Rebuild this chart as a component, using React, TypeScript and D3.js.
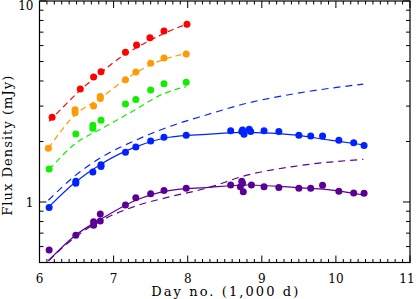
import * as d3 from "d3";

// observed points (day no. in 1,000 d, flux in mJy)
const redX = [6.17, 6.55, 6.73, 6.83, 7.16, 7.31, 7.49, 7.68, 7.99];
const redY = [2.64, 3.65, 4.19, 4.45, 5.56, 6.04, 6.56, 7.1, 7.66];
const redModelX = [6.13, 6.3, 6.55, 6.8, 7.0, 7.36, 7.72, 8.0];
const redModelY = [2.52, 2.92, 3.6, 4.3, 4.95, 6.0, 7.0, 7.7];

const orangeX = [6.12, 6.48, 6.48, 6.73, 6.82, 6.82, 7.16, 7.3, 7.5, 7.68, 7.98];
const orangeY = [1.85, 2.78, 2.88, 3.0, 3.27, 3.35, 4.06, 4.43, 4.9, 5.2, 5.45];
const orangeModelX = [6.12, 6.48, 6.82, 7.15, 7.49, 7.99];
const orangeModelY = [1.85, 2.71, 3.28, 4.05, 4.8, 5.5];

const greenX = [6.13, 6.49, 6.72, 6.72, 6.83, 7.16, 7.3, 7.5, 7.68, 7.98];
const greenY = [1.46, 2.18, 2.41, 2.33, 2.55, 3.07, 3.24, 3.61, 3.88, 3.94];
const greenModelX = [6.13, 6.49, 6.85, 7.28, 7.63, 7.98];
const greenModelY = [1.45, 1.96, 2.33, 2.86, 3.4, 3.75];

const blueX = [6.13, 6.49, 6.49, 6.72, 6.83, 6.83, 7.16, 7.3, 7.5, 7.68, 7.98, 8.58, 8.73, 8.74, 8.76, 8.83, 8.85, 9.03, 9.23, 9.5, 9.66, 9.82, 10.04, 10.24, 10.38];
const blueY = [0.94, 1.27, 1.24, 1.41, 1.53, 1.5, 1.77, 1.88, 2.01, 2.1, 2.15, 2.26, 2.24, 2.28, 2.17, 2.3, 2.24, 2.26, 2.24, 2.15, 2.13, 2.13, 2.03, 1.97, 1.91];
const blueFitX = [6.12, 6.49, 6.85, 7.3, 7.75, 8.25, 8.8, 9.47, 9.92, 10.39];
const blueFitY = [0.94, 1.26, 1.56, 1.88, 2.1, 2.17, 2.22, 2.15, 2.03, 1.92];
const blueModelX = [6.12, 6.49, 6.85, 7.3, 7.75, 8.25, 8.8, 9.47, 10.37];
const blueModelY = [1.02, 1.36, 1.68, 2.03, 2.37, 2.71, 3.1, 3.47, 3.86];

const purpleX = [6.13, 6.49, 6.73, 6.73, 6.82, 6.82, 7.16, 7.3, 7.5, 7.68, 7.98, 8.58, 8.71, 8.73, 8.74, 8.75, 8.86, 9.03, 9.23, 9.5, 9.66, 9.82, 10.04, 10.24, 10.38];
const purpleY = [0.577, 0.683, 0.798, 0.766, 0.871, 0.804, 0.966, 1.05, 1.1, 1.14, 1.17, 1.215, 1.19, 1.27, 1.24, 1.125, 1.215, 1.19, 1.18, 1.17, 1.17, 1.21, 1.13, 1.11, 1.105];
const purpleFitX = [6.12, 6.49, 6.85, 7.3, 7.75, 8.25, 8.8, 9.47, 9.92, 10.39];
const purpleFitY = [0.51, 0.685, 0.83, 1.02, 1.14, 1.18, 1.215, 1.18, 1.15, 1.08];
const purpleModelX = [6.12, 6.49, 6.85, 7.3, 7.75, 8.25, 8.8, 9.47, 10.37];
const purpleModelY = [0.51, 0.672, 0.814, 0.955, 1.06, 1.17, 1.36, 1.51, 1.63];

const xTicks = [6, 7, 8, 9, 10, 11];
const yMajor = [1, 10];
const yMinor = [0.5, 0.6, 0.7, 0.8, 0.9, 2, 3, 4, 5, 6, 7, 8, 9];

const series = [
  { color: "#ff0000", x: redX, y: redY, model: [redModelX, redModelY], fit: null, dash: "6,4" },
  { color: "#ff9a00", x: orangeX, y: orangeY, model: [orangeModelX, orangeModelY], fit: null, dash: "6,4" },
  { color: "#11ee00", x: greenX, y: greenY, model: [greenModelX, greenModelY], fit: null, dash: "6,4" },
  { color: "#0022ff", x: blueX, y: blueY, model: [blueModelX, blueModelY], fit: [blueFitX, blueFitY], dash: "7,5" },
  { color: "#5b0095", x: purpleX, y: purpleY, model: [purpleModelX, purpleModelY], fit: [purpleFitX, purpleFitY], dash: "7,5" },
];

const width = 416;
const height = 299;
const pad = { top: 1, right: 6, bottom: 36.5, left: 39.5 };
const font = "'DejaVu Serif', serif";

export default function App() {
  const x = d3.scaleLinear().domain([6, 11]).range([pad.left, width - pad.right]);
  const y = d3.scaleLog().domain([0.5, 10]).range([height - pad.bottom, pad.top]);

  const line = d3
    .line<[number, number]>()
    .x((d) => x(d[0]))
    .y((d) => y(d[1]))
    .curve(d3.curveMonotoneX);

  const pairs = (xs: number[], ys: number[]) => xs.map((v, i) => [v, ys[i]] as [number, number]);

  const minorX = d3.range(60, 111).map((v) => v / 10).filter((v) => Math.abs(v - Math.round(v)) > 1e-6);

  const x0 = x(6);
  const x1 = x(11);
  const y0 = y(0.5);
  const y1 = y(10);

  return (
    <div style={{ position: "fixed", left: 0, top: 0 }}>
      <svg width={width} height={height} style={{ display: "block" }}>
        <rect x={0} y={0} width={width} height={height} fill="white" />

        {series.map((s, i) => (
          <g key={i}>
            <path d={line(pairs(s.model[0], s.model[1])) ?? ""} fill="none" stroke={s.color} strokeWidth={1.2} strokeDasharray={s.dash} />
            {s.fit && <path d={line(pairs(s.fit[0], s.fit[1])) ?? ""} fill="none" stroke={s.color} strokeWidth={1.2} />}
            {s.x.map((v, j) => (
              <circle key={j} cx={x(v)} cy={y(s.y[j])} r={3.5} fill={s.color} />
            ))}
          </g>
        ))}

        {/* frame */}
        <rect x={x0} y={y1} width={x1 - x0} height={y0 - y1} fill="none" stroke="black" strokeWidth={1.2} />

        {/* x ticks, top and bottom */}
        {xTicks.map((t) => (
          <g key={"xt" + t}>
            <line x1={x(t)} x2={x(t)} y1={y0} y2={y0 - 7} stroke="black" />
            <line x1={x(t)} x2={x(t)} y1={y1} y2={y1 + 7} stroke="black" />
            <text x={t === 11 ? x(t) - 3 : x(t)} y={y0 + 20} fontSize={12} fontFamily={font} textAnchor="middle">
              {t}
            </text>
          </g>
        ))}
        {minorX.map((t) => (
          <g key={"xm" + t}>
            <line x1={x(t)} x2={x(t)} y1={y0} y2={y0 - 3.5} stroke="black" />
            <line x1={x(t)} x2={x(t)} y1={y1} y2={y1 + 3.5} stroke="black" />
          </g>
        ))}

        {/* y ticks, left and right */}
        {yMajor.map((t) => (
          <g key={"yt" + t}>
            <line x1={x0} x2={x0 + 7} y1={y(t)} y2={y(t)} stroke="black" />
            <line x1={x1} x2={x1 - 7} y1={y(t)} y2={y(t)} stroke="black" />
            <text x={x0 - 6} y={Math.max(10, y(t) + 5.5)} fontSize={12} fontFamily={font} textAnchor="end">
              {t}
            </text>
          </g>
        ))}
        {yMinor.map((t) => (
          <g key={"ym" + t}>
            <line x1={x0} x2={x0 + 4} y1={y(t)} y2={y(t)} stroke="black" />
            <line x1={x1} x2={x1 - 4} y1={y(t)} y2={y(t)} stroke="black" />
          </g>
        ))}

        <text x={(x0 + x1) / 2} y={296} fontSize={13} fontFamily={font} textAnchor="middle" textLength={147} lengthAdjust="spacing">
          Day no. (1,000 d)
        </text>
        <text
          transform={`translate(12, ${(y0 + y1) / 2 + 14}) rotate(-90)`}
          fontSize={13}
          fontFamily={font}
          textAnchor="middle"
          textLength={140}
          lengthAdjust="spacing"
        >
          Flux Density (mJy)
        </text>
      </svg>
    </div>
  );
}
